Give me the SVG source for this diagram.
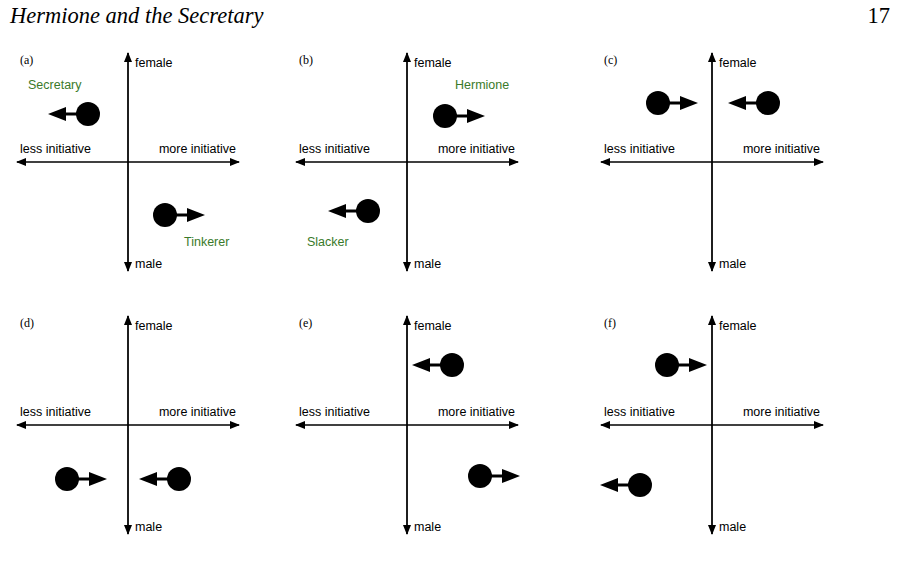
<svg xmlns="http://www.w3.org/2000/svg" width="901" height="568" viewBox="0 0 901 568">
<style>
.ax{stroke:#000;stroke-width:1.3;fill:none}
.t{font-family:"Liberation Sans",Arial,sans-serif;font-size:12.5px;fill:#000}
.g{font-family:"Liberation Sans",Arial,sans-serif;font-size:12.5px;fill:#3a7a2a}
.p{font-family:"Liberation Serif",serif;font-size:12px;fill:#000}
.h{font-family:"Liberation Serif",serif;font-size:22.5px;font-style:italic;fill:#000}
</style>
<defs>
<marker id="ah" markerWidth="10" markerHeight="8" refX="9" refY="4" orient="auto" markerUnits="userSpaceOnUse"><path d="M0,0L10,4L0,8z" fill="#000"/></marker>
<g id="axes">
<line class="ax" x1="128" y1="53" x2="128" y2="271" marker-end="url(#ah)"/>
<line class="ax" x1="128" y1="271" x2="128" y2="53" marker-end="url(#ah)"/>
<line class="ax" x1="128" y1="162" x2="17" y2="162" marker-end="url(#ah)"/>
<line class="ax" x1="128" y1="162" x2="239" y2="162" marker-end="url(#ah)"/>
<text class="t" x="135" y="67">female</text>
<text class="t" x="135" y="268">male</text>
<text class="t" x="20" y="153">less initiative</text>
<text class="t" x="236" y="153" text-anchor="end">more initiative</text>
</g>
<g id="R"><circle r="12" fill="#000"/><line x1="0" y1="0" x2="24" y2="0" stroke="#000" stroke-width="3"/><path d="M22,-7L40,0L22,7z" fill="#000"/></g>
<g id="L"><circle r="12" fill="#000"/><line x1="0" y1="0" x2="-24" y2="0" stroke="#000" stroke-width="3"/><path d="M-22,-7L-40,0L-22,7z" fill="#000"/></g>
</defs>
<text class="h" x="10" y="23">Hermione and the Secretary</text>
<text x="890" y="23" text-anchor="end" style="font-family:'Liberation Serif',serif;font-size:22.5px">17</text>
<g id="connectors">
<use href="#axes"/>
<use href="#axes" x="279"/>
<use href="#axes" x="584"/>
<use href="#axes" y="263"/>
<use href="#axes" x="279" y="263"/>
<use href="#axes" x="584" y="263"/>
</g>
<g id="panel-a"><text class="p" x="20" y="64">(a)</text>
<use href="#L" x="88" y="114"/><use href="#R" x="165" y="215"/>
<text class="g" x="28" y="89">Secretary</text><text class="g" x="184" y="246">Tinkerer</text></g>
<g id="panel-b"><text class="p" x="299" y="64">(b)</text>
<use href="#R" x="445" y="116"/><use href="#L" x="368" y="211"/>
<text class="g" x="455" y="89">Hermione</text><text class="g" x="307" y="246">Slacker</text></g>
<g id="panel-c"><text class="p" x="604" y="64">(c)</text>
<use href="#R" x="658" y="103"/><use href="#L" x="768" y="103"/></g>
<g id="panel-d"><text class="p" x="20" y="327">(d)</text>
<use href="#R" x="67" y="479"/><use href="#L" x="179" y="479"/></g>
<g id="panel-e"><text class="p" x="299" y="327">(e)</text>
<use href="#L" x="452" y="365"/><use href="#R" x="480" y="476"/></g>
<g id="panel-f"><text class="p" x="604" y="327">(f)</text>
<use href="#R" x="667" y="365"/><use href="#L" x="640" y="485"/></g>
</svg>
